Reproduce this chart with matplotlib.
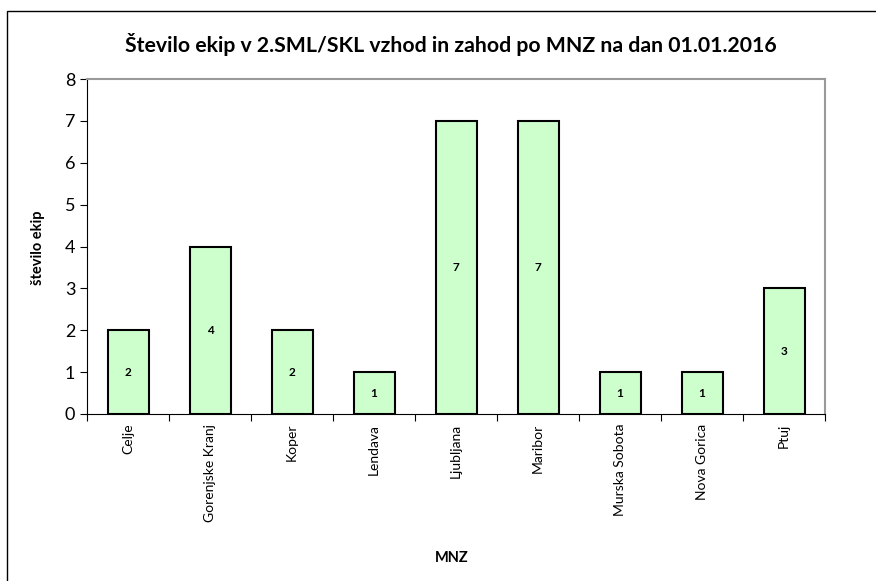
import matplotlib.pyplot as plt
import matplotlib.patches as mpatches
import numpy as np

plt.rcParams['font.family'] = ['Lato', 'DejaVu Sans']

# Data
mnz = ["Celje", "Gorenjske Kranj", "Koper", "Lendava", "Ljubljana",
       "Maribor", "Murska Sobota", "Nova Gorica", "Ptuj"]
ekipe = [2, 4, 2, 1, 7, 7, 1, 1, 3]

fig = plt.figure(figsize=(8.76, 5.81), dpi=100)
fig.patches.append(mpatches.Rectangle((7 / 876, -0.1), 1.2, (581 - 11) / 581 + 0.1,
                                      transform=fig.transFigure, fill=False,
                                      edgecolor='black', linewidth=1))

ax = fig.add_axes([87 / 876, (581 - 414) / 581, (825 - 87) / 876, (414 - 79) / 581])
x = np.arange(len(mnz))
bars = ax.bar(x, ekipe, width=0.5, color='#CCFFCC', edgecolor='black', linewidth=1.5)

for xi, v in zip(x, ekipe):
    ax.text(xi, v / 2, str(v), ha='center', va='center', fontsize=8.5, fontweight='bold')

ax.set_xlim(-0.5, len(mnz) - 0.5)
ax.set_ylim(0, 8)
ax.set_yticks(range(0, 9))
ax.tick_params(axis='y', labelsize=13, direction='out', length=5, color='black')

# category boundary ticks
ax.set_xticks(np.arange(-0.5, len(mnz), 1.0))
ax.set_xticklabels([])
ax.set_xticks(x, minor=True)
ax.set_xticklabels(mnz, minor=True, rotation=90, fontsize=10)
ax.tick_params(axis='x', which='major', direction='out', length=5, color='black')
ax.tick_params(axis='x', which='minor', length=0, pad=7)

for s in ['top', 'right']:
    ax.spines[s].set_color('#999999')
    ax.spines[s].set_linewidth(1.5)
for s in ['left', 'bottom']:
    ax.spines[s].set_color('black')

fig.text(451 / 876, 1 - 44 / 581, "Število ekip v 2.SML/SKL vzhod in zahod po MNZ na dan 01.01.2016",
         ha='center', va='center', fontsize=15.3, fontweight='bold')
fig.text(38 / 876, 1 - 248 / 581, "število ekip", rotation=90, ha='center', va='center',
         fontsize=10.5, fontweight='bold')
fig.text(452 / 876, 1 - 558 / 581, "MNZ", ha='center', va='center', fontsize=10.5, fontweight='bold')

fig.savefig('out.png', dpi=100)
